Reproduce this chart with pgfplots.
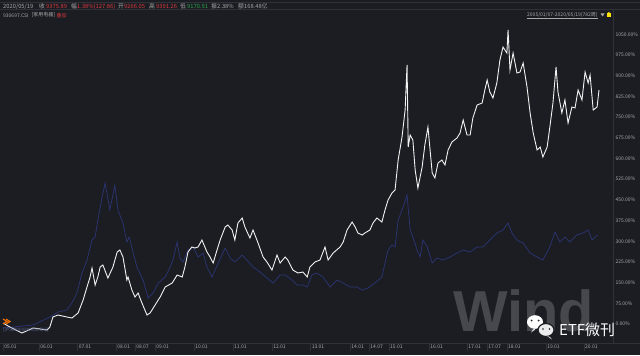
\documentclass[border=0pt]{standalone}
\usepackage{pgfplots}
\pgfplotsset{compat=1.18}
\usepackage{fontspec}
\setmainfont{Noto Sans CJK SC}
\newfontfamily\windfont{Liberation Sans}
\definecolor{bg}{HTML}{1B1D23}
\definecolor{linecol}{HTML}{2E3138}
\definecolor{labelcol}{HTML}{A8A8A8}
\definecolor{redv}{HTML}{D8393E}
\definecolor{greenv}{HTML}{2FA84F}
\definecolor{bluel}{HTML}{2C3575}
\definecolor{whitel}{HTML}{F2F2F2}
\definecolor{wmark}{HTML}{46484E}
\begin{document}
\begin{tikzpicture}[x=1bp,y=1bp]
\useasboundingbox (0,0) rectangle (640,355);
\fill[bg] (0,0) rectangle (640,355);
\draw[linecol, line width=0.6bp] (0,352.3) -- (640,352.3);
\draw[linecol, line width=0.6bp] (0,345.5) -- (640,345.5);
\draw[linecol, line width=0.6bp] (0,12) -- (640,12);
\draw[linecol, line width=0.6bp] (613,12) -- (613,345.5);
% header
\begin{scope}[every node/.style={anchor=west, inner sep=0pt, font=\fontsize{5.8}{6.5}\selectfont}]
\node[text=labelcol] at (3,348.6) {2020/05/19};
\node[text=labelcol] at (39,348.6) {收};
\node[text=redv] at (46,348.6) {9375.89};
\node[text=labelcol] at (71,348.6) {幅};
\node[text=redv] at (77,348.6) {1.38\%(127.86)};
\node[text=labelcol] at (118,348.6) {开};
\node[text=redv] at (124,348.6) {9266.05};
\node[text=labelcol] at (149,348.6) {高};
\node[text=redv] at (156,348.6) {9391.26};
\node[text=labelcol] at (180,348.6) {低};
\node[text=greenv] at (187,348.6) {9170.91};
\node[text=labelcol] at (211,348.6) {振};
\node[text=labelcol] at (217,348.6) {2.38\%};
\node[text=labelcol] at (238,348.6) {额};
\node[text=labelcol] at (244,348.6) {168.48亿};
\end{scope}
\begin{scope}[every node/.style={anchor=west, inner sep=0pt, font=\fontsize{5}{6}\selectfont}]
\node[text=labelcol] at (3,339.8) {930697.CSI};
\node[text=labelcol] at (31.5,339.8) {[家用电器]};
\node[text=redv] at (56.5,339.8) {叠加};
\end{scope}
\node[anchor=west, inner sep=0pt, text=labelcol, font=\fontsize{5}{6}\selectfont] (rng) at (527,340) {2005/01/07-2020/05/19(782周)};
\draw[labelcol, line width=0.3bp] ([yshift=-0.6bp]rng.south west) -- ([yshift=-0.6bp]rng.south east);
\fill[labelcol] (600.5,341.5) -- (604.5,341.5) -- (602.5,338.5) -- cycle;
\fill[yellow!85!orange] (606.5,337.5) rectangle (611,341.5);
\draw[yellow!85!orange, line width=0.5bp] (607.5,341.5) arc (180:0:1.3);
% watermark
\node[anchor=base west, inner sep=0pt, text depth=0pt, text=wmark, font=\windfont\bfseries\fontsize{58}{58}\selectfont] at (453,23.5) {Wind};
\begin{axis}[
  at={(0bp,12bp)}, anchor=south west, scale only axis,
  width=613bp, height=323bp,
  xmin=2004.922, xmax=2020.762, ymin=-68.8, ymax=1101.4,
  axis x line*=bottom, axis y line*=right,
  axis line style={draw=linecol, line width=0.6bp},
  tick align=outside,
  major tick length=8bp,
  x tick style={draw=linecol, line width=0.5bp},
  y tick style={draw=none},
  xtick={2005.0,2005.93,2006.925,2007.92,2008.41,2008.93,2009.935,2010.94,2011.95,2012.945,2013.97,2014.46,2014.97,2016.01,2016.99,2017.51,2018.02,2019.03,2020.01},
  xticklabels={05.01,06.01,07.01,08.01,08.07,09.01,10.01,11.01,12.01,13.01,14.01,14.07,15.01,16.01,17.01,17.07,18.01,19.01,20.01},
  ytick={0,75,...,1050},
  yticklabel={\pgfmathprintnumber[fixed,fixed zerofill,precision=2,1000 sep={}]{\tick}\%},
  /pgf/number format/assume math mode=true,
  tick label style={font=\fontsize{5}{6}\selectfont, text=labelcol, inner sep=0.3bp},
  xticklabel style={anchor=west, yshift=4.3bp, xshift=0.8bp},
  yticklabel style={anchor=west, xshift=-6bp},
  clip=false,
]
\addplot[bluel, line width=0.7bp] coordinates {
(2005.00,-14.5) (2005.78,-3.6) (2006.21,25.4) (2006.42,43.5) (2006.65,50.7) (2006.78,76.1) (2006.91,112.3) (2007.04,184.8) (2007.17,231.9) (2007.30,304.3) (2007.38,315.2) (2007.45,376.8) (2007.56,460.1) (2007.64,510.8) (2007.76,413.0) (2007.89,503.6) (2007.97,413.0) (2008.10,365.9) (2008.20,297.1) (2008.26,315.2) (2008.36,260.9) (2008.46,206.5) (2008.62,159.4) (2008.75,94.2) (2008.88,112.3) (2009.01,148.5) (2009.19,170.3) (2009.32,206.5) (2009.39,231.9) (2009.50,297.1) (2009.57,239.1) (2009.65,224.6) (2009.78,268.1) (2009.91,279.0) (2010.04,242.7) (2010.17,257.2) (2010.27,206.5) (2010.40,170.3) (2010.56,221.0) (2010.74,275.3) (2010.87,239.1) (2010.99,224.6) (2011.18,250.0) (2011.30,231.9) (2011.46,206.5) (2011.64,188.4) (2011.82,166.7) (2011.98,148.5) (2012.16,177.5) (2012.29,177.5) (2012.47,159.4) (2012.60,141.3) (2012.75,141.3) (2012.86,134.1) (2012.98,177.5) (2013.11,184.8) (2013.27,170.3) (2013.45,134.1) (2013.63,159.4) (2013.79,148.5) (2013.97,134.1) (2014.15,134.1) (2014.28,123.2) (2014.43,130.4) (2014.61,148.5) (2014.79,170.3) (2014.87,221.0) (2014.95,268.1) (2015.05,286.2) (2015.13,279.0) (2015.21,376.8) (2015.34,423.9) (2015.44,467.4) (2015.52,340.6) (2015.59,315.2) (2015.70,268.1) (2015.78,242.7) (2015.85,304.3) (2015.96,279.0) (2016.09,221.0) (2016.21,239.1) (2016.37,231.9) (2016.55,242.7) (2016.73,257.2) (2016.89,268.1) (2017.07,260.9) (2017.25,279.0) (2017.40,279.0) (2017.58,304.3) (2017.76,329.7) (2017.92,340.6) (2018.05,365.9) (2018.15,329.7) (2018.28,304.3) (2018.44,293.5) (2018.62,257.2) (2018.80,242.7) (2018.95,231.9) (2019.13,279.0) (2019.26,333.3) (2019.39,297.1) (2019.52,315.2) (2019.65,297.1) (2019.83,322.4) (2019.99,329.7) (2020.12,340.6) (2020.22,304.3) (2020.30,315.2) (2020.37,322.4)
};
\addplot[whitel, line width=0.9bp] coordinates {
(2005.00,3.6) (2005.18,-10.9) (2005.49,-32.6) (2005.78,-14.5) (2006.14,-21.7) (2006.21,-10.9) (2006.29,25.4) (2006.42,32.6) (2006.65,25.4) (2006.78,21.7) (2006.94,39.9) (2007.07,87.0) (2007.17,134.1) (2007.25,170.3) (2007.30,202.9) (2007.38,141.3) (2007.45,170.3) (2007.51,206.5) (2007.58,213.8) (2007.71,166.7) (2007.84,206.5) (2007.95,260.9) (2008.02,268.1) (2008.10,242.7) (2008.20,159.4) (2008.23,170.3) (2008.33,123.2) (2008.41,97.8) (2008.49,112.3) (2008.59,76.1) (2008.72,32.6) (2008.80,39.9) (2008.93,68.8) (2009.01,87.0) (2009.06,97.8) (2009.19,134.1) (2009.37,148.5) (2009.50,177.5) (2009.63,170.3) (2009.70,206.5) (2009.78,260.9) (2009.88,279.0) (2009.96,275.3) (2010.04,279.0) (2010.14,304.3) (2010.27,260.9) (2010.35,242.7) (2010.43,221.0) (2010.53,268.1) (2010.61,304.3) (2010.74,351.4) (2010.81,358.7) (2010.92,340.6) (2010.99,304.3) (2011.07,365.9) (2011.18,384.0) (2011.25,351.4) (2011.38,311.6) (2011.46,340.6) (2011.59,293.5) (2011.72,242.7) (2011.82,224.6) (2011.95,195.6) (2012.08,250.0) (2012.16,221.0) (2012.29,242.7) (2012.36,231.9) (2012.49,195.6) (2012.62,184.8) (2012.75,188.4) (2012.86,170.3) (2012.93,206.5) (2013.06,224.6) (2013.19,231.9) (2013.32,279.0) (2013.40,231.9) (2013.53,257.2) (2013.71,279.0) (2013.79,297.1) (2013.89,340.6) (2014.02,369.5) (2014.10,351.4) (2014.17,329.7) (2014.28,322.4) (2014.35,329.7) (2014.48,340.6) (2014.56,365.9) (2014.66,384.0) (2014.79,369.5) (2014.87,413.0) (2014.95,449.3) (2015.05,474.6) (2015.13,485.5) (2015.21,594.2) (2015.31,677.5) (2015.39,775.3) (2015.44,938.4) (2015.47,641.3) (2015.52,684.7) (2015.59,666.6) (2015.65,557.9) (2015.72,492.7) (2015.83,568.8) (2015.90,648.5) (2015.98,713.7) (2016.09,547.1) (2016.16,529.0) (2016.24,583.3) (2016.34,594.2) (2016.42,576.1) (2016.50,630.4) (2016.60,659.4) (2016.73,673.9) (2016.81,692.0) (2016.89,739.1) (2016.99,684.7) (2017.07,684.7) (2017.14,746.3) (2017.25,793.4) (2017.38,800.7) (2017.45,847.8) (2017.51,884.0) (2017.58,840.5) (2017.66,818.8) (2017.76,873.1) (2017.84,956.5) (2017.92,1003.6) (2018.02,981.8) (2018.05,1065.2) (2018.10,920.2) (2018.18,981.8) (2018.28,909.4) (2018.36,913.0) (2018.44,945.6) (2018.54,858.7) (2018.62,764.5) (2018.70,692.0) (2018.80,630.4) (2018.88,641.3) (2018.95,605.0) (2019.06,641.3) (2019.13,713.7) (2019.21,800.7) (2019.29,931.1) (2019.34,840.5) (2019.44,764.5) (2019.52,811.6) (2019.60,728.2) (2019.70,786.2) (2019.78,782.6) (2019.86,847.8) (2019.96,811.6) (2020.04,913.0) (2020.12,873.1) (2020.17,902.1) (2020.25,775.3) (2020.35,786.2) (2020.40,847.8)
};
\end{axis}
% start marker and overlay label
\draw[orange!90!red, line width=1.1bp] (3,36) -- (7,33.5) -- (3,31);
\draw[orange!90!red, line width=1.1bp] (6,36) -- (10,33.5) -- (6,31);
\node[anchor=west, inner sep=0pt, text=bluel!75!white, font=\fontsize{4.6}{5}\selectfont] at (3,25) {[沪深300(000300.SH)]};
% wechat logo + text
\fill[white] (535,33) ellipse (8bp and 6.8bp);
\fill[white] (533,25.5) -- (531,22.5) -- (536,26.5) -- cycle;
\fill[bg] (531.5,34.5) circle (1bp);
\fill[bg] (538.5,34.5) circle (1bp);
\draw[bg, line width=1.2bp, fill=white!92!black] (546,25) ellipse (8bp and 6.5bp);
\fill[white!92!black] (550,18) -- (552,15.5) -- (547,19) -- cycle;
\fill[bg] (543,26) circle (0.9bp);
\fill[bg] (549.5,26) circle (0.9bp);
\node[anchor=west, inner sep=0pt, text=white, font=\fontsize{15}{16}\selectfont] at (559,25) {ETF微刊};
\end{tikzpicture}
\end{document}
